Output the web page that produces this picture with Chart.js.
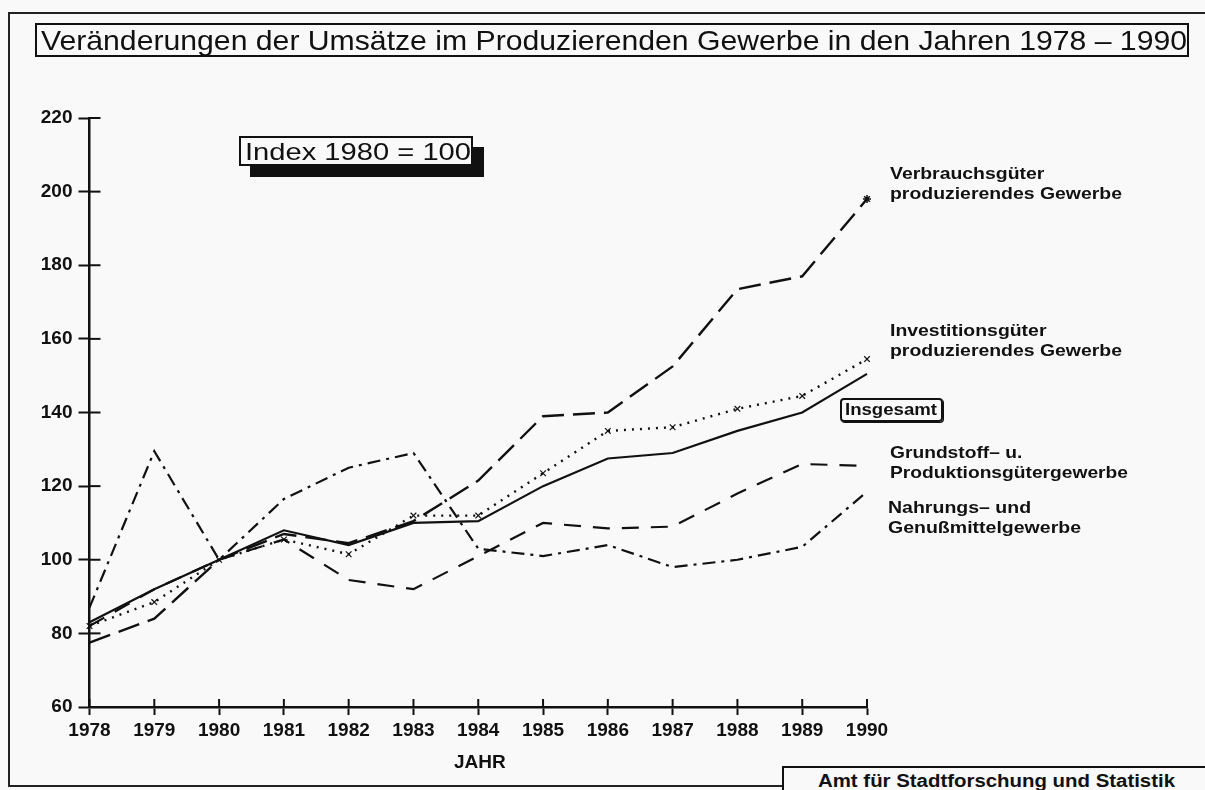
<!DOCTYPE html>
<html>
<head>
<meta charset="utf-8">
<script src="https://cdn.jsdelivr.net/npm/chart.js@4.4.1/dist/chart.umd.min.js"></script>
<style>
body { margin: 0; background: #f8f9f8; }
#wrap { position: relative; width: 1205px; height: 790px; overflow: hidden; background: #f8f9f8; font-family: "Liberation Sans", Arial, sans-serif; color: #111; }
#chart { position: absolute; left: 0; top: 0; }
#frame { position: absolute; left: 8px; top: 12px; width: 1300px; height: 771px; border-left: 2px solid #222; border-top: 2px solid #222; border-bottom: 2px solid #222; }
#title { position: absolute; left: 35px; top: 23px; width: 1150px; height: 30px; border: 2px solid #111; }
#title span, #index span { position: absolute; white-space: nowrap; transform-origin: 0 0; }
#title span { left: 4px; top: 0; font-size: 28px; line-height: 32px; }
#index { position: absolute; left: 239px; top: 136px; width: 230px; height: 26px; border: 2px solid #111; background: #f8f9f8; box-shadow: 11px 11px 0 0 #111; }
#index span { left: 4px; top: -1px; font-size: 24px; line-height: 30px; }
.lbl { position: absolute; font-weight: bold; font-size: 17px; line-height: 20px; white-space: nowrap; transform-origin: 0 0; }
#insg { position: absolute; left: 840px; top: 398px; width: 99px; height: 20px; border: 2px solid #111; border-radius: 4px; box-shadow: 1px 1px 0 0 #111; }
#insg span { position: absolute; left: 3px; top: 0; font-weight: bold; font-size: 16px; line-height: 20px; white-space: nowrap; transform-origin: 0 0; }
#jahr { position: absolute; left: 454px; top: 751px; font-weight: bold; font-size: 19px; line-height: 22px; }
#amt { position: absolute; left: 782px; top: 766px; width: 500px; height: 40px; border-left: 2px solid #111; border-top: 2px solid #111; background: #f8f9f8; }
#amt span { position: absolute; left: 34px; top: 2px; font-weight: bold; font-size: 18px; line-height: 22px; white-space: nowrap; transform-origin: 0 0; }
</style>
</head>
<body>
<div id="wrap">
  <div id="frame"></div>
  <canvas id="chart" width="1205" height="790"></canvas>
  <div id="title"><span data-w="1146">Veränderungen der Umsätze im Produzierenden Gewerbe in den Jahren 1978 – 1990</span></div>
  <div id="index"><span data-w="226">Index 1980 = 100</span></div>
  <div class="lbl" style="left:890px;top:164px" data-w="232">Verbrauchsgüter<br>produzierendes Gewerbe</div>
  <div class="lbl" style="left:890px;top:321px" data-w="232">Investitionsgüter<br>produzierendes Gewerbe</div>
  <div id="insg"><span data-w="92">Insgesamt</span></div>
  <div class="lbl" style="left:890px;top:443px" data-w="238">Grundstoff– u.<br>Produktionsgütergewerbe</div>
  <div class="lbl" style="left:888px;top:498px" data-w="193">Nahrungs– und<br>Genußmittelgewerbe</div>
  <div id="jahr">JAHR</div>
  <div id="amt"><span data-w="357">Amt für Stadtforschung und Statistik</span></div>
</div>
<script>
// --- data (Index 1980 = 100) ---
const years = ['1978', '1979', '1980', '1981', '1982', '1983', '1984', '1985', '1986', '1987', '1988', '1989', '1990'];
const insgesamt = [83, 92, 100, 108, 104, 110, 110.5, 120, 127.5, 129, 135, 140, 150.5];
const investition = [82, 88.5, 100, 105.5, 101.5, 112, 112, 123.5, 135, 136, 141, 144.5, 154.5];
const verbrauch = [77.5, 84, 100, 107, 104.5, 110.5, 121.5, 139, 140, 152.5, 173.5, 177, 198];
const grundstoff = [82, 92, 100, 105.5, 94.5, 92, 101, 110, 108.5, 109, 118, 126, 125.5];
const nahrung = [87, 129.5, 100, 116.5, 125, 129, 103, 101, 104, 98, 100, 103.5, 118.5];
const yMin = 60;
const yMax = 220;
const yStep = 20;

const ink = '#111';
const tickFont = { family: '"Liberation Sans", Arial, sans-serif', size: 19, weight: 'bold' };

// ticks on the plotter chart cross the axis, Chart.js only draws the outer half
const innerTicks = {
  id: 'innerTicks',
  afterDraw(chart) {
    const { ctx, scales: { x, y } } = chart;
    ctx.save();
    ctx.strokeStyle = ink;
    ctx.lineWidth = 2;
    y.ticks.forEach((t, i) => {
      const py = y.getPixelForTick(i);
      ctx.beginPath();
      ctx.moveTo(y.right, py);
      ctx.lineTo(y.right + 11, py);
      ctx.stroke();
    });
    x.ticks.forEach((t, i) => {
      const px = x.getPixelForTick(i);
      ctx.beginPath();
      ctx.moveTo(px, x.top);
      ctx.lineTo(px, x.top - 8);
      ctx.stroke();
    });
    ctx.restore();
  }
};

function series(label, data, dash, width, extra) {
  return Object.assign({
    label: label,
    data: data,
    borderColor: ink,
    backgroundColor: ink,
    borderWidth: width,
    borderDash: dash,
    pointRadius: 0,
    tension: 0,
    fill: false
  }, extra || {});
}

const chart = new Chart(document.getElementById('chart'), {
  type: 'line',
  data: {
    labels: years,
    datasets: [
      series('Insgesamt', insgesamt, [], 2.2),
      series('Investitionsgüter produzierendes Gewerbe', investition, [2, 6], 2.4, {
        pointStyle: 'crossRot', pointRadius: 4, pointBorderWidth: 1.2, pointBorderColor: ink
      }),
      series('Verbrauchsgüter produzierendes Gewerbe', verbrauch, [22, 9], 2.4, {
        pointStyle: 'star', pointBorderWidth: 1.5,
        pointRadius: ctx => ctx.dataIndex === ctx.dataset.data.length - 1 ? 4 : 0
      }),
      series('Grundstoff- u. Produktionsgütergewerbe', grundstoff, [17, 12], 2.2),
      series('Nahrungs- und Genußmittelgewerbe', nahrung, [13, 6, 3, 6], 2.2)
    ]
  },
  options: {
    responsive: false,
    animation: false,
    layout: { padding: { left: 0, top: 118, right: 338, bottom: 0 } },
    plugins: { legend: { display: false }, tooltip: { enabled: false } },
    scales: {
      x: {
        offset: false,
        border: { color: ink, width: 2.5 },
        grid: { drawOnChartArea: false, drawTicks: true, tickLength: 8, tickColor: ink, tickWidth: 2 },
        ticks: { color: ink, font: tickFont, padding: 4, maxRotation: 0, autoSkip: false },
        afterFit: s => { s.height = 83; }
      },
      y: {
        min: yMin,
        max: yMax,
        border: { color: ink, width: 2.5 },
        grid: { drawOnChartArea: false, drawTicks: true, tickLength: 11, tickColor: ink, tickWidth: 2 },
        ticks: { color: ink, font: tickFont, padding: 6, stepSize: yStep },
        afterFit: s => { s.width = 89.5; }
      }
    }
  },
  plugins: [innerTicks]
});

// squeeze the texts to the widths of the original lettering
document.querySelectorAll('[data-w]').forEach(el => {
  const w = el.getBoundingClientRect().width;
  const target = parseFloat(el.dataset.w);
  el.style.transform = 'scaleX(' + (target / w) + ')';
});
</script>
</body>
</html>
